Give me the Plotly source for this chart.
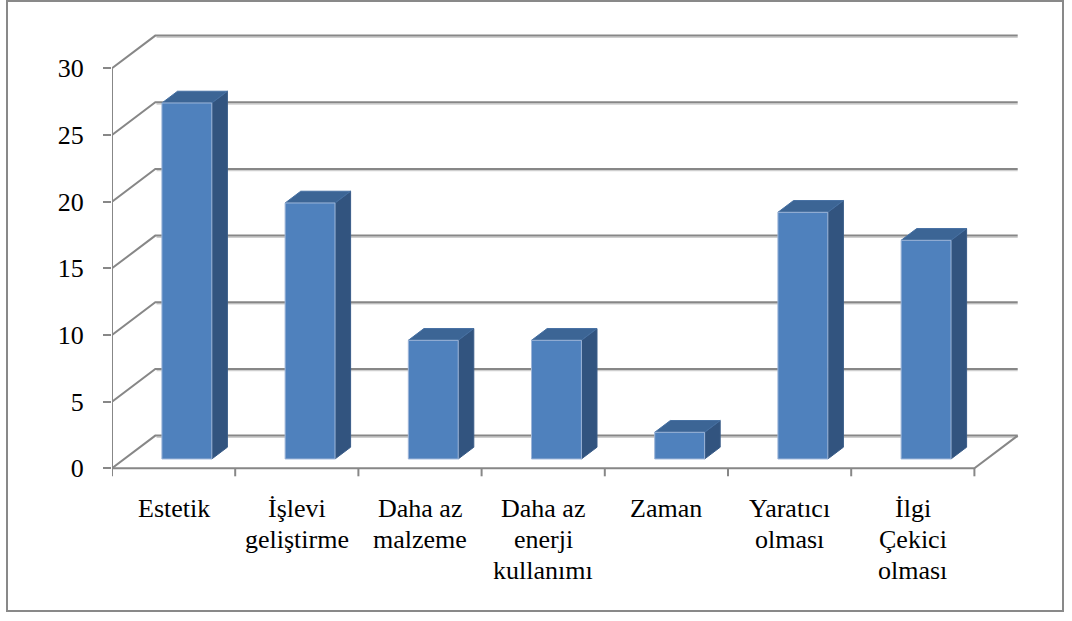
import plotly.graph_objects as go

# ---------------- data ----------------
categories = ["Estetik", "İşlevi geliştirme", "Daha az malzeme",
              "Daha az enerji kullanımı", "Zaman", "Yaratıcı olması",
              "İlgi Çekici olması"]
label_lines = [["Estetik"], ["İşlevi", "geliştirme"], ["Daha az", "malzeme"],
               ["Daha az", "enerji", "kullanımı"], ["Zaman"],
               ["Yaratıcı", "olması"], ["İlgi", "Çekici", "olması"]]
values = [26.7, 19.2, 8.9, 8.9, 2.0, 18.5, 16.4]
y_ticks = [0, 5, 10, 15, 20, 25, 30]

# ---------------- pseudo-3D geometry (data units) ----------------
DX, DY = 0.3515, 2.4525        # depth offset of the back wall
F0, F1 = 0.285, 0.645          # bar front / back depth fraction
BAR_L, BAR_W = 0.305, 0.405    # bar left offset / width within a category
N = len(categories)
PX_PER_UNIT = 13.333
Y0_PX = 468.3

GRID = "#878787"
FONT = "Liberation Serif"

fig = go.Figure()

# light shadow under the back-wall gridlines
shx, shy = [], []
for t in y_ticks:
    shx += [DX + 0.01, N + DX, None]
    shy += [t + DY - 0.12, t + DY - 0.12, None]
fig.add_trace(go.Scatter(x=shx, y=shy, mode="lines",
                         line=dict(color="#cfcfcf", width=1.5),
                         hoverinfo="skip", showlegend=False))

# back-wall gridlines + left-wall diagonals
gx, gy = [], []
for t in y_ticks:
    gx += [0, DX, N + DX, None]
    gy += [t, t + DY, t + DY, None]
# floor outline (front edge + right diagonal)
gx += [0, N, N + DX, None]
gy += [0, 0, DY, None]
# front vertical axis
gx += [0, 0, None]
gy += [0, y_ticks[-1], None]
# category tick marks below the floor
for k in range(N + 1):
    gx += [k, k, None]
    gy += [0, -0.6, None]
fig.add_trace(go.Scatter(x=gx, y=gy, mode="lines",
                         line=dict(color=GRID, width=2),
                         hoverinfo="skip", showlegend=False))

# bars
fx, fy, tx, ty, sx, sy = [], [], [], [], [], []
for i, v in enumerate(values):
    l0 = i + BAR_L + F0 * DX
    r0 = l0 + BAR_W
    l1 = i + BAR_L + F1 * DX
    r1 = l1 + BAR_W
    b0, b1 = F0 * DY, F1 * DY
    fx += [l0, r0, r0, l0, l0, None]
    fy += [b0, b0, v + b0, v + b0, b0, None]
    tx += [l0, r0, r1, l1, l0, None]
    ty += [v + b0, v + b0, v + b1, v + b1, v + b0, None]
    sx += [r0, r1, r1, r0, r0, None]
    sy += [b0, b1, v + b1, v + b0, b0, None]

fig.add_trace(go.Scatter(x=sx, y=sy, mode="lines", fill="toself",
                         fillcolor="#32547F", line=dict(color="#3a5c88", width=1),
                         hoverinfo="skip", showlegend=False))
fig.add_trace(go.Scatter(x=tx, y=ty, mode="lines", fill="toself",
                         fillcolor="#3C6595", line=dict(color="#4670a2", width=1),
                         hoverinfo="skip", showlegend=False))
fig.add_trace(go.Scatter(x=fx, y=fy, mode="lines", fill="toself",
                         fillcolor="#4F81BD", line=dict(color="#9db5d8", width=1),
                         hoverinfo="skip", showlegend=False))

# category labels (one annotation per line)
BASELINES_PX = [517, 548, 579]
for i, lines in enumerate(label_lines):
    for j, txt in enumerate(lines):
        center_px = BASELINES_PX[j] - 8.8
        fig.add_annotation(x=i + 0.5, y=(Y0_PX - center_px) / PX_PER_UNIT,
                           text=txt, showarrow=False, xanchor="center",
                           yanchor="middle",
                           font=dict(family=FONT, size=26, color="black"))

# outer border
L_M = 112
PLOT_W = 1072 - L_M
fig.add_shape(type="rect", xref="paper", yref="paper",
              x0=(7 - L_M) / PLOT_W, x1=(1063 - L_M) / PLOT_W,
              y0=(621 - 611) / 621, y1=(621 - 1) / 621,
              line=dict(color="#898989", width=2), fillcolor="rgba(0,0,0,0)")

fig.update_layout(
    width=1072, height=621,
    margin=dict(l=L_M, r=0, t=0, b=0, autoexpand=False),
    paper_bgcolor="white", plot_bgcolor="white",
    xaxis=dict(range=[0, PLOT_W / 123.2], visible=False, fixedrange=True),
    yaxis=dict(range=[(Y0_PX - 621) / PX_PER_UNIT, Y0_PX / PX_PER_UNIT],
               tickvals=y_ticks, ticktext=[str(t) for t in y_ticks],
               ticks="outside", ticklen=8, tickwidth=2, tickcolor=GRID,
               ticklabelstandoff=14,
               showgrid=False, zeroline=False, showline=False,
               tickfont=dict(family=FONT, size=26, color="black"),
               fixedrange=True),
)

fig.write_html("out.html", config={"displayModeBar": False},
               post_script="document.body.style.margin='0';"
                           "document.body.style.overflow='hidden';")
